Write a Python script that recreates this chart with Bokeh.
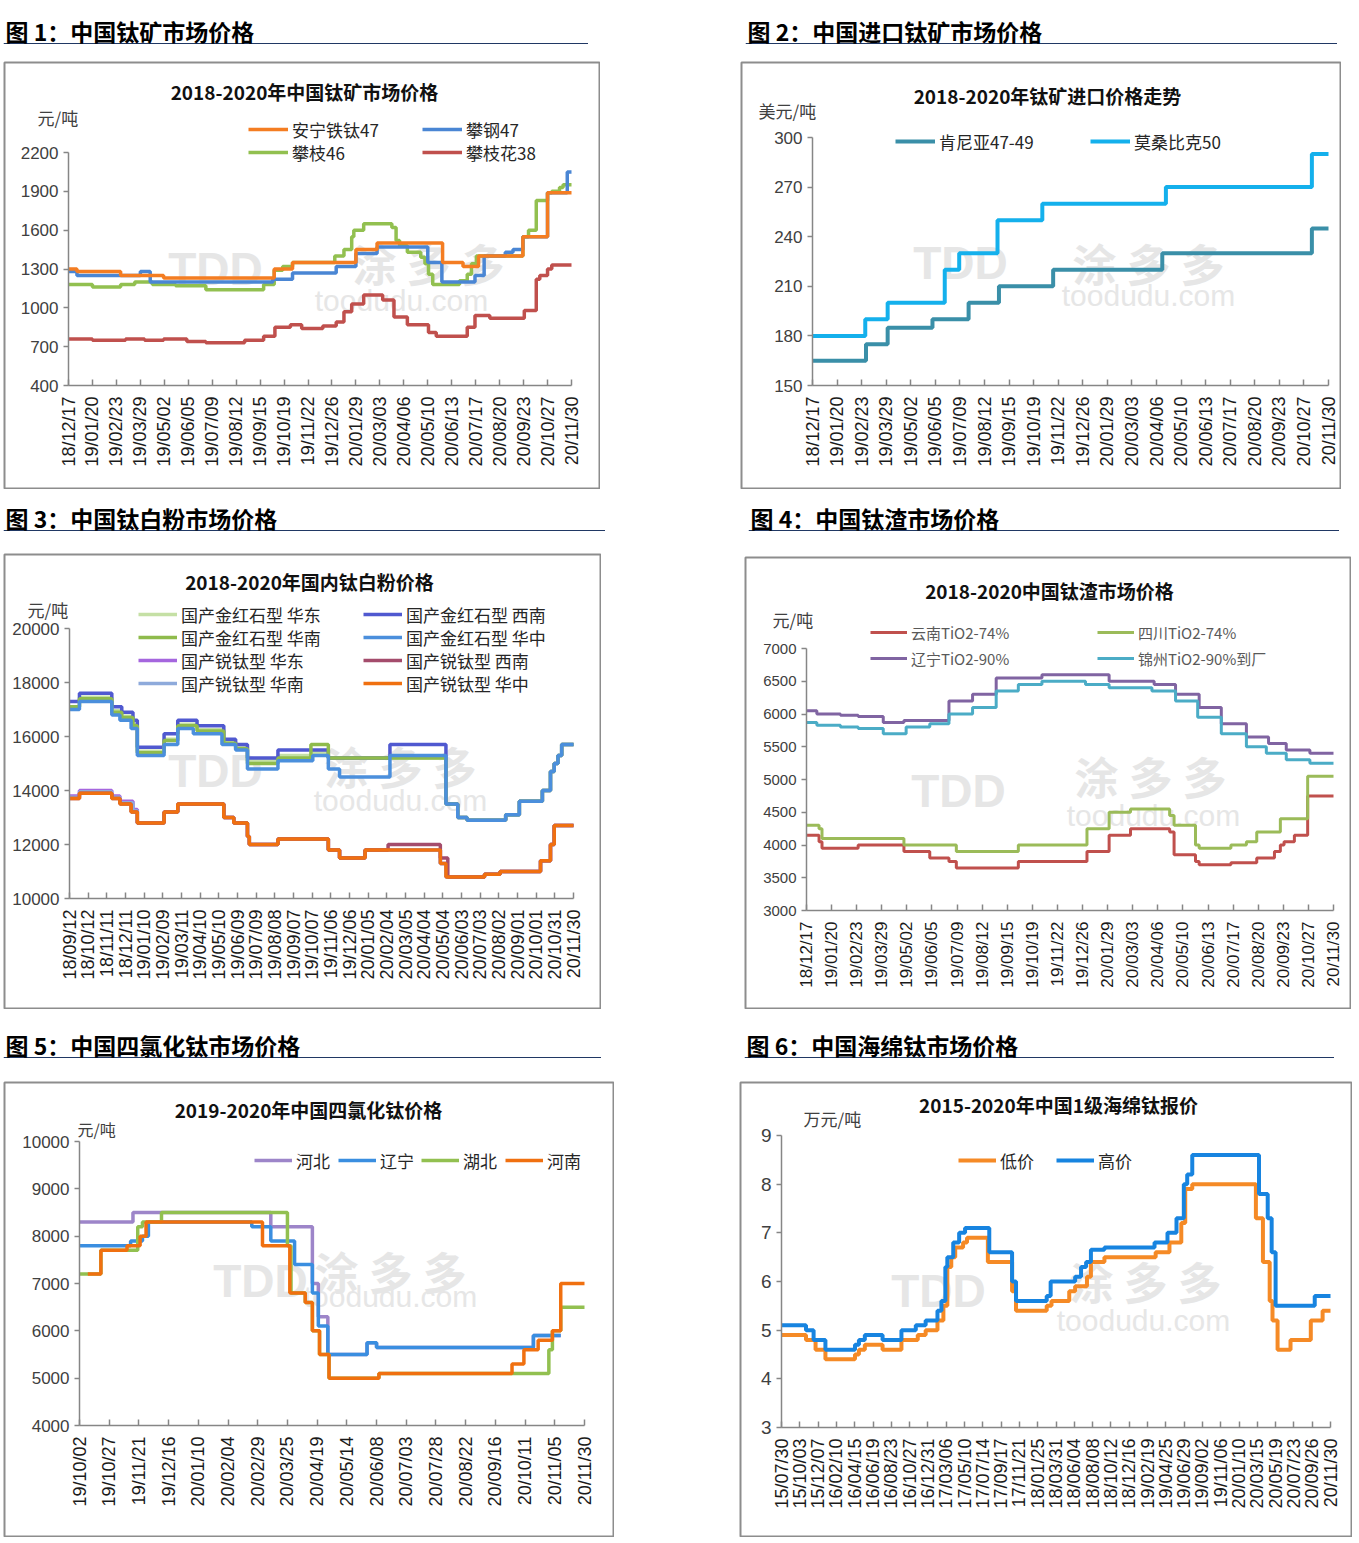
import math
from bokeh.plotting import figure
from bokeh.models import Range1d, FixedTicker, Label, Legend, LegendItem, Spacer, Span
from bokeh.layouts import column, row
from bokeh.embed import file_html
from bokeh.resources import INLINE

CJK = "Noto Sans CJK SC"
NUM = "Liberation Sans"

# ---------------- data ----------------
# chart 1 : days from 18/12/17
c1_labels = ["18/12/17","19/01/20","19/02/23","19/03/29","19/05/02","19/06/05","19/07/09","19/08/12",
             "19/09/15","19/10/19","19/11/22","19/12/26","20/01/29","20/03/03","20/04/06","20/05/10",
             "20/06/13","20/07/17","20/08/20","20/09/23","20/10/27","20/11/30"]
c1_anning_d = [0, 12, 74, 135, 292, 318, 408, 438, 531, 560, 582, 645, 680, 714]
c1_anning_v = [1300, 1280, 1250, 1230, 1300, 1350, 1450, 1500, 1350, 1320, 1400, 1550, 1890, 1890]
c1_pangang_d = [0, 12, 102, 116, 290, 318, 380, 408, 438, 510, 530, 577, 590, 620, 631, 645, 680, 708, 714]
c1_pangang_v = [1280, 1250, 1280, 1200, 1220, 1270, 1320, 1420, 1470, 1350, 1200, 1250, 1400, 1430, 1450, 1550, 1890, 2050, 2050]
c1_pz46_d = [0, 34, 74, 94, 119, 152, 195, 277, 292, 304, 318, 378, 391, 402, 405, 419, 459, 465, 470, 481,
             500, 506, 511, 517, 555, 566, 572, 579, 645, 653, 664, 680, 686, 697, 702, 714]
c1_pz46_v = [1180, 1160, 1180, 1200, 1180, 1170, 1140, 1180, 1290, 1320, 1350, 1400, 1450, 1550, 1600, 1650,
             1620, 1520, 1480, 1430, 1390, 1340, 1260, 1180, 1210, 1260, 1340, 1400, 1550, 1600, 1830, 1890,
             1900, 1930, 1950, 1950]
c1_pzh38_d = [0, 34, 81, 108, 135, 168, 195, 250, 277, 293, 315, 331, 361, 380, 391, 402, 419, 446, 462, 481,
              511, 522, 566, 577, 598, 647, 664, 669, 680, 686, 714]
c1_pzh38_v = [760, 750, 760, 750, 760, 740, 730, 750, 780, 850, 870, 840, 860, 890, 970, 1030, 1100, 1060, 930,
              870, 810, 780, 850, 940, 920, 980, 1220, 1250, 1300, 1330, 1330]

# chart 2
c2_labels = c1_labels
c2_kenya_d = [0, 74, 104, 166, 216, 258, 333, 484, 691, 714]
c2_kenya_v = [165, 175, 185, 190, 200, 210, 220, 230, 245, 245]
c2_moz_d = [0, 73, 104, 183, 203, 256, 318, 489, 691, 714]
c2_moz_v = [180, 190, 200, 220, 230, 250, 260, 270, 290, 290]

# chart 3 : days from 18/09/12
c3_labels = ["18/09/12","18/10/12","18/11/11","18/12/11","19/01/10","19/02/09","19/03/11","19/04/10",
             "19/05/10","19/06/09","19/07/09","19/08/08","19/09/07","19/10/07","19/11/06","19/12/06",
             "20/01/05","20/02/04","20/03/05","20/04/04","20/05/04","20/06/03","20/07/03","20/08/02",
             "20/09/01","20/10/01","20/10/31","20/11/30"]
c3_rut_hd_d = [0, 16, 68, 84, 102, 109, 152, 174, 205, 248, 267, 286, 335, 391, 416, 605, 624, 639, 701, 723, 760, 773, 779, 785, 791, 810]
c3_rut_hd_v = [17100, 17450, 16950, 16750, 16450, 15450, 15900, 16450, 16250, 15800, 15600, 15100, 15300, 15400, 15200,
               13500, 13000, 12900, 13100, 13600, 14000, 14700, 15000, 15300, 15700, 15700]
c3_rut_hn_d = [0, 16, 68, 84, 102, 109, 152, 174, 205, 248, 267, 286, 335, 388, 416, 605, 624, 639, 701, 723, 760, 773, 779, 785, 791, 810]
c3_rut_hn_v = [17100, 17400, 16900, 16700, 16400, 15400, 15850, 16400, 16200, 15750, 15550, 15000, 15200, 15700, 15200,
               13500, 13000, 12900, 13100, 13600, 14000, 14700, 15000, 15300, 15700, 15700]
c3_ana_hd_d = [0, 16, 68, 81, 102, 109, 152, 174, 248, 264, 286, 289, 335, 416, 434, 475, 596, 605, 667, 692, 757, 773, 779, 810]
c3_ana_hd_v = [13800, 14000, 13800, 13600, 13300, 12800, 13200, 13500, 13000, 12800, 12300, 12000, 12200, 11800,
               11500, 11800, 11300, 10800, 10900, 11000, 11400, 12000, 12700, 12700]
c3_ana_hn_d = [0, 16, 68, 81, 102, 109, 152, 174, 248, 264, 286, 289, 335, 416, 434, 475, 596, 605, 667, 692, 757, 773, 779, 810]
c3_ana_hn_v = [13750, 13950, 13750, 13550, 13250, 12800, 13200, 13500, 13000, 12800, 12300, 12000, 12200, 11800,
               11500, 11800, 11300, 10800, 10900, 11000, 11400, 12000, 12700, 12700]
c3_rut_xn_d = [0, 16, 68, 84, 102, 109, 152, 174, 205, 248, 267, 286, 335, 416, 515, 605, 624, 639, 701, 723, 760, 773, 779, 785, 791, 810]
c3_rut_xn_v = [17300, 17600, 17100, 16900, 16600, 15600, 16100, 16600, 16400, 15900, 15700, 15200, 15500, 15200, 15700,
               13500, 13000, 12900, 13100, 13600, 14000, 14700, 15000, 15300, 15700, 15700]
c3_rut_hz_d = [0, 16, 68, 81, 99, 109, 152, 174, 199, 245, 267, 286, 335, 391, 416, 434, 515, 605, 624, 639, 701, 723,
               760, 773, 779, 785, 791, 810]
c3_rut_hz_v = [17000, 17300, 16800, 16600, 16300, 15300, 15700, 16300, 16100, 15700, 15500, 14800, 15100, 15300, 14800,
               14500, 15300, 13500, 13000, 12900, 13100, 13600, 14000, 14700, 15000, 15300, 15700, 15700]
c3_ana_xn_d = [0, 16, 68, 81, 99, 109, 152, 174, 248, 264, 286, 289, 335, 416, 434, 475, 512, 596, 608, 667, 692, 757, 773, 779, 810]
c3_ana_xn_v = [13700, 13900, 13700, 13500, 13200, 12800, 13200, 13500, 13000, 12800, 12300, 12000, 12200, 11800,
               11500, 11800, 12000, 11500, 10800, 10900, 11000, 11400, 12000, 12700, 12700]
c3_ana_hz_d = [0, 16, 68, 81, 99, 109, 152, 174, 248, 264, 286, 289, 335, 416, 434, 475, 596, 605, 667, 692, 757, 773, 779, 810]
c3_ana_hz_v = [13700, 13900, 13700, 13500, 13200, 12800, 13200, 13500, 13000, 12800, 12300, 12000, 12200, 11800,
               11500, 11800, 11300, 10800, 10900, 11000, 11400, 12000, 12700, 12700]

# chart 4 : days from 18/12/17
c4_labels = c1_labels
c4_ln_d = [0, 14, 46, 70, 104, 132, 193, 225, 257, 319, 410, 471, 500, 532, 562, 596, 626, 650, 682, 714]
c4_ln_v = [6050, 6000, 5980, 5960, 5870, 5900, 6200, 6300, 6550, 6600, 6500, 6450, 6300, 6100, 5850, 5650, 5550, 5450, 5400, 5400]
c4_jz_d = [0, 14, 46, 70, 104, 135, 167, 193, 225, 257, 287, 319, 378, 410, 468, 500, 530, 562, 596, 623, 650, 682, 714]
c4_jz_v = [5870, 5830, 5800, 5780, 5700, 5800, 5850, 6000, 6100, 6350, 6450, 6500, 6450, 6400, 6350, 6200, 5950, 5700,
           5500, 5400, 5300, 5250, 5250]
c4_sc_d = [0, 17, 21, 132, 203, 287, 380, 410, 439, 492, 498, 527, 532, 575, 596, 610, 642, 679, 714]
c4_sc_v = [4300, 4250, 4100, 4000, 3900, 4000, 4250, 4500, 4550, 4450, 4300, 4000, 3950, 4000, 4050, 4200, 4400, 5050, 5050]
c4_yn_d = [0, 17, 21, 70, 132, 167, 193, 203, 287, 380, 410, 439, 492, 498, 527, 532, 575, 610, 634, 642, 647, 661, 679, 714]
c4_yn_v = [4150, 4050, 3950, 4000, 3900, 3800, 3750, 3650, 3750, 3900, 4150, 4250, 4200, 3850, 3750, 3700, 3730, 3800,
           3900, 4000, 4050, 4150, 4750, 4750]

# chart 5 : days from 19/10/02
c5_labels = ["19/10/02","19/10/27","19/11/21","19/12/16","20/01/10","20/02/04","20/02/29","20/03/25","20/04/19",
             "20/05/14","20/06/08","20/07/03","20/07/28","20/08/22","20/09/16","20/10/11","20/11/05","20/11/30"]
c5_hebei_d = [0, 45, 161, 196, 201, 209, 242, 250, 382, 405]
c5_hebei_v = [8300, 8500, 8200, 7000, 6300, 5500, 5750, 5650, 5900, 5900]
c5_liaoning_d = [0, 43, 53, 58, 145, 161, 181, 196, 201, 209, 242, 250, 382, 405]
c5_liaoning_v = [7800, 7900, 8000, 8300, 8200, 7900, 7400, 6800, 6100, 5500, 5750, 5650, 5900, 5900]
c5_hubei_d = [0, 18, 49, 53, 69, 175, 178, 190, 196, 202, 210, 252, 395, 398, 405, 425]
c5_hubei_v = [7200, 7700, 8200, 8300, 8500, 7800, 6800, 6600, 6000, 5500, 5000, 5100, 5600, 6000, 6500, 6500]
c5_henan_d = [7, 18, 40, 51, 56, 154, 177, 190, 196, 202, 210, 252, 364, 374, 386, 398, 405, 425]
c5_henan_v = [7200, 7700, 7800, 8000, 8300, 7800, 6800, 6600, 6000, 5500, 5000, 5100, 5300, 5600, 5800, 6000, 7000, 7000]

# chart 6 : days from 15/07/30
c6_labels = ["15/07/30","15/10/03","15/12/07","16/02/10","16/04/15","16/06/19","16/08/23","16/10/27","16/12/31",
             "17/03/06","17/05/10","17/07/14","17/09/17","17/11/21","18/01/25","18/03/31","18/06/04","18/08/08",
             "18/10/12","18/12/16","19/02/19","19/04/25","19/06/29","19/09/02","19/11/06","20/01/10","20/03/15",
             "20/05/19","20/07/23","20/09/26","20/11/30"]
c6_low_d = [0, 87, 121, 156, 261, 275, 296, 359, 426, 484, 512, 554, 575, 589, 603, 617, 645, 659, 733, 819,
            833, 942, 959, 1022, 1043, 1085, 1099, 1147, 1329, 1378, 1420, 1434, 1459, 1685, 1710, 1734, 1744, 1762,
            1808, 1880, 1922, 1950]
c6_low_v = [4.9, 4.8, 4.6, 4.4, 4.5, 4.6, 4.7, 4.6, 4.8, 4.9, 5.0, 5.2, 5.5, 6.3, 6.5, 6.7, 6.8, 6.9, 6.4, 5.8,
            5.4, 5.5, 5.6, 5.8, 5.9, 6.1, 6.4, 6.5, 6.6, 6.8, 7.2, 7.9, 8.0, 7.3, 6.4, 5.6, 5.2, 4.6, 4.8, 5.2, 5.4, 5.4]
c6_high_d = [0, 87, 114, 156, 261, 275, 296, 359, 426, 477, 512, 554, 568, 582, 589, 610, 631, 652, 738, 819,
             833, 942, 956, 1043, 1064, 1082, 1099, 1147, 1325, 1371, 1403, 1429, 1441, 1459, 1696, 1727, 1741, 1755,
             1894, 1950]
c6_high_v = [5.1, 5.0, 4.8, 4.6, 4.7, 4.8, 4.9, 4.8, 5.0, 5.1, 5.2, 5.4, 5.6, 6.3, 6.5, 6.8, 7.0, 7.1, 6.6, 6.0,
             5.6, 5.7, 6.0, 6.1, 6.3, 6.4, 6.65, 6.7, 6.8, 7.0, 7.3, 8.0, 8.2, 8.6, 7.8, 7.3, 6.6, 5.5, 5.7, 5.7]


# ---------------- helpers ----------------
WM = "#e6e6e6"


def make_chart(box, axis_px, y_top_px, x_end, x_step, x_labels, y_min, y_max_tick, y_step,
               series, title, title_c, unit, unit_xy, legends, lw, wm,
               ylab_size="17px", xlab_size="18px", leg_size="17px", leg_color="#262626",
               unit_size="17px", glyph_w=40, leg_gap=23):
    bx0, by0, bx1, by1 = box
    ax0, ax1, ay_bot = axis_px          # pixel of x=0, x=x_end and of y=y_min
    W, H = bx1 - bx0, by1 - by0
    fl, fr, ft, fb = bx0 + 1, bx1 - 1, by0 + 1, by1 - 1   # frame edges
    ppd = (ax1 - ax0) / x_end
    ppu = (ay_bot - y_top_px) / (y_max_tick - y_min)
    xr = Range1d(-(ax0 - fl) / ppd, x_end + (fr - ax1) / ppd)
    yr = Range1d(y_min - (fb - ay_bot) / ppu, y_min + (ay_bot - ft) / ppu)
    p = figure(width=W, height=H, output_backend="svg", toolbar_location=None, tools="",
               x_range=xr, y_range=yr, min_border=1,
               background_fill_color="white", border_fill_color="white",
               outline_line_color="#8d8d8d", outline_line_width=2)
    p.xgrid.visible = False
    p.ygrid.visible = False

    def sx(px):
        return px - fl

    def sy(py):
        return fb - py

    # faint watermark (behind the lines)
    (tx, ty), (wx, wy), (ux, uy) = wm
    p.add_layout(Label(x=sx(tx), y=sy(ty), x_units="screen", y_units="screen", text="TDD",
                       text_align="center", text_baseline="middle", text_font=NUM, text_font_style="bold",
                       text_font_size="46px", text_color=WM, level="underlay"))
    p.add_layout(Label(x=sx(wx), y=sy(wy), x_units="screen", y_units="screen", text="涂 多 多",
                       text_align="center", text_baseline="middle", text_font=CJK, text_font_style="bold",
                       text_font_size="44px", text_color=WM, level="underlay"))
    p.add_layout(Label(x=sx(ux), y=sy(uy), x_units="screen", y_units="screen", text="toodudu.com",
                       text_align="center", text_baseline="middle", text_font=NUM,
                       text_font_size="30px", text_color=WM, level="underlay"))

    rs = {}
    for name, d, v, color in series:
        rs[name] = p.step(d, v, mode="after", line_color=color, line_width=lw)
    ticks_y = list(range(int(y_min), int(y_max_tick) + 1, int(y_step)))
    p.yaxis.ticker = FixedTicker(ticks=ticks_y)
    p.yaxis.bounds = (y_min, y_max_tick)
    p.yaxis.fixed_location = 0
    ticks_x = list(range(0, x_end + 1, x_step))
    p.xaxis.ticker = FixedTicker(ticks=ticks_x)
    p.xaxis.bounds = (0, x_end)
    p.xaxis.fixed_location = y_min
    p.xaxis.major_label_overrides = {t: lab for t, lab in zip(ticks_x, x_labels)}
    p.xaxis.major_label_orientation = math.pi / 2
    for ax in (p.xaxis[0], p.yaxis[0]):
        ax.axis_line_color = "#868686"
        ax.axis_line_width = 1.5
        ax.major_tick_line_color = "#868686"
        ax.major_tick_line_width = 1.5
        ax.minor_tick_line_color = None
        ax.major_label_text_font = NUM
    p.yaxis.major_tick_in = 0
    p.yaxis.major_tick_out = 5
    p.yaxis.major_label_standoff = 5
    p.yaxis.major_label_text_font_size = ylab_size
    p.yaxis.major_label_text_color = "#404040"
    p.xaxis.major_tick_in = 6
    p.xaxis.major_tick_out = 0
    p.xaxis.major_label_standoff = 11
    p.xaxis.major_label_text_font_size = xlab_size
    p.xaxis.major_label_text_color = "#1a1a1a"

    p.add_layout(Label(x=sx(title_c[0]), y=sy(title_c[1]), x_units="screen", y_units="screen",
                       text=title, text_align="center", text_baseline="middle", text_font=CJK,
                       text_font_style="bold", text_font_size="19px", text_color="#111111"))
    p.add_layout(Label(x=sx(unit_xy[0]), y=sy(unit_xy[1]), x_units="screen", y_units="screen",
                       text=unit, text_align="left", text_baseline="middle", text_font=CJK,
                       text_font_size=unit_size, text_color="#404040"))
    for gx, gy, names in legends:
        for i, n in enumerate(names):
            cy = gy + i * leg_gap
            leg = Legend(items=[LegendItem(label=n, renderers=[rs[n]])],
                         location=(sx(gx), sy(cy + 13)), orientation="vertical",
                         padding=0, margin=0, spacing=0, glyph_width=glyph_w, glyph_height=26,
                         label_height=26, label_standoff=4, border_line_color=None,
                         background_fill_alpha=0, label_text_font=CJK, label_text_font_size=leg_size,
                         label_text_color=leg_color)
            p.add_layout(leg)
    return p


EXTRA = 9   # heading canvas continues this many px below its underline


def heading(text, w, h):
    p = figure(width=w, height=h, output_backend="svg", toolbar_location=None, tools="",
               x_range=Range1d(0, w), y_range=Range1d(0, h), min_border=0,
               x_axis_type=None, y_axis_type=None, outline_line_color=None,
               background_fill_color="white", border_fill_color="white")
    p.grid.visible = False
    p.add_layout(Span(location=1 + EXTRA, dimension="width", line_color="#203864", line_width=1))
    p.add_layout(Label(x=2, y=14 + EXTRA, x_units="screen", y_units="screen", text=text,
                       text_align="left", text_baseline="middle", text_font=CJK,
                       text_font_style="bold", text_font_size="23px", text_color="#000000"))
    return p


def cell(col_x0, head_x, head_h, gap, box, chart, title_text):
    hx0, hx1 = head_x
    head = heading(title_text, hx1 - hx0, head_h + EXTRA)
    top = row(Spacer(width=hx0 - col_x0), head) if hx0 > col_x0 else head
    bot = row(Spacer(width=box[0] - col_x0), chart) if box[0] > col_x0 else chart
    return column(top, Spacer(height=gap - EXTRA), bot)


# ---------------- charts ----------------
B1 = (3, 61, 600, 489)
B2 = (740, 61, 1341, 489)
B3 = (3, 553, 601, 1009)
B4 = (744, 556, 1351, 1009)
B5 = (3, 1081, 614, 1537)
B6 = (739, 1081, 1352, 1537)

p1 = make_chart(box=B1, axis_px=(68, 571, 385), y_top_px=152,
                x_end=714, x_step=34, x_labels=c1_labels, y_min=400, y_max_tick=2200, y_step=300,
                series=[("攀枝花38", c1_pzh38_d, c1_pzh38_v, "#c0504d"),
                        ("攀枝46", c1_pz46_d, c1_pz46_v, "#92c050"),
                        ("攀钢47", c1_pangang_d, c1_pangang_v, "#4a86d4"),
                        ("安宁铁钛47", c1_anning_d, c1_anning_v, "#f47d22")],
                title="2018-2020年中国钛矿市场价格", title_c=(304, 91),
                unit="元/吨", unit_xy=(37, 117),
                legends=[(248, 129, ["安宁铁钛47", "攀枝46"]), (422, 129, ["攀钢47", "攀枝花38"])],
                lw=3.5, wm=((215, 268), (428, 262), (401, 300)))

p2 = make_chart(box=B2, axis_px=(812, 1328, 385), y_top_px=137,
                x_end=714, x_step=34, x_labels=c2_labels, y_min=150, y_max_tick=300, y_step=30,
                series=[("肯尼亚47-49", c2_kenya_d, c2_kenya_v, "#3a8fa8"),
                        ("莫桑比克50", c2_moz_d, c2_moz_v, "#14b0ec")],
                title="2018-2020年钛矿进口价格走势", title_c=(1047, 95),
                unit="美元/吨", unit_xy=(758, 110),
                legends=[(895, 141, ["肯尼亚47-49"]), (1090, 141, ["莫桑比克50"])],
                lw=4, wm=((960, 262), (1148, 262), (1148, 295)))

p3 = make_chart(box=B3, axis_px=(69, 573, 898), y_top_px=628,
                x_end=810, x_step=30, x_labels=c3_labels, y_min=10000, y_max_tick=20000, y_step=2000,
                series=[("国产金红石型 华东", c3_rut_hd_d, c3_rut_hd_v, "#c5e0a5"),
                        ("国产金红石型 西南", c3_rut_xn_d, c3_rut_xn_v, "#5059d0"),
                        ("国产金红石型 华南", c3_rut_hn_d, c3_rut_hn_v, "#8fbb4c"),
                        ("国产金红石型 华中", c3_rut_hz_d, c3_rut_hz_v, "#4b8fdc"),
                        ("国产锐钛型 华东", c3_ana_hd_d, c3_ana_hd_v, "#a566de"),
                        ("国产锐钛型 华南", c3_ana_hn_d, c3_ana_hn_v, "#8eaadb"),
                        ("国产锐钛型 西南", c3_ana_xn_d, c3_ana_xn_v, "#a44c6c"),
                        ("国产锐钛型 华中", c3_ana_hz_d, c3_ana_hz_v, "#f07010")],
                title="2018-2020年国内钛白粉价格", title_c=(309, 581),
                unit="元/吨", unit_xy=(27, 609),
                legends=[(138, 614, ["国产金红石型 华东", "国产金红石型 华南", "国产锐钛型 华东", "国产锐钛型 华南"]),
                         (363, 614, ["国产金红石型 西南", "国产金红石型 华中", "国产锐钛型 西南", "国产锐钛型 华中"])],
                lw=3.5, glyph_w=39, wm=((215, 770), (400, 765), (400, 800)))

p4 = make_chart(box=B4, axis_px=(806, 1333, 910), y_top_px=648,
                x_end=714, x_step=34, x_labels=c4_labels, y_min=3000, y_max_tick=7000, y_step=500,
                series=[("云南TiO2-74%", c4_yn_d, c4_yn_v, "#c0504d"),
                        ("四川TiO2-74%", c4_sc_d, c4_sc_v, "#9bbb59"),
                        ("辽宁TiO2-90%", c4_ln_d, c4_ln_v, "#8064a2"),
                        ("锦州TiO2-90%到厂", c4_jz_d, c4_jz_v, "#4bacc6")],
                title="2018-2020中国钛渣市场价格", title_c=(1049, 590),
                unit="元/吨", unit_xy=(772, 619),
                legends=[(870, 632, ["云南TiO2-74%", "辽宁TiO2-90%"]),
                         (1097, 632, ["四川TiO2-74%", "锦州TiO2-90%到厂"])],
                lw=3, ylab_size="15px", xlab_size="17px", leg_size="15px", leg_color="#595959",
                glyph_w=37, leg_gap=26, wm=((958, 790), (1150, 775), (1153, 815)))

p5 = make_chart(box=B5, axis_px=(79, 584, 1425), y_top_px=1141,
                x_end=425, x_step=25, x_labels=c5_labels, y_min=4000, y_max_tick=10000, y_step=1000,
                series=[("河北", c5_hebei_d, c5_hebei_v, "#9d85c9"),
                        ("辽宁", c5_liaoning_d, c5_liaoning_v, "#3a8ee0"),
                        ("湖北", c5_hubei_d, c5_hubei_v, "#92c050"),
                        ("河南", c5_henan_d, c5_henan_v, "#f07010")],
                title="2019-2020年中国四氯化钛价格", title_c=(308, 1109),
                unit="元/吨", unit_xy=(77, 1128),
                legends=[(254, 1160, ["河北"]), (338, 1160, ["辽宁"]), (421, 1160, ["湖北"]), (505, 1160, ["河南"])],
                lw=3.5, glyph_w=38, unit_size="16px", wm=((260, 1280), (390, 1270), (390, 1296)))

p6 = make_chart(box=B6, axis_px=(781, 1330, 1427), y_top_px=1135,
                x_end=1950, x_step=65, x_labels=c6_labels, y_min=3, y_max_tick=9, y_step=1,
                series=[("低价", c6_low_d, c6_low_v, "#f58a26"),
                        ("高价", c6_high_d, c6_high_v, "#1784e0")],
                title="2015-2020年中国1级海绵钛报价", title_c=(1058, 1104),
                unit="万元/吨", unit_xy=(803, 1118),
                legends=[(958, 1160, ["低价"]), (1056, 1160, ["高价"])],
                lw=4, ylab_size="19px", glyph_w=38, wm=((938, 1290), (1145, 1280), (1143, 1320)))

# ---------------- layout ----------------
L1 = cell(0, (3, 588), 44, 17, B1, p1, "图 1：中国钛矿市场价格")
R1 = cell(740, (745, 1337), 44, 17, B2, p2, "图 2：中国进口钛矿市场价格")
L2 = cell(0, (3, 605), 42, 22, B3, p3, "图 3：中国钛白粉市场价格")
R2 = cell(744, (748, 1339), 42, 25, B4, p4, "图 4：中国钛渣市场价格")
L3 = cell(0, (3, 601), 49, 23, B5, p5, "图 5：中国四氯化钛市场价格")
R3 = cell(739, (744, 1334), 49, 23, B6, p6, "图 6：中国海绵钛市场价格")

layout = column(
    row(L1, Spacer(width=740 - 600), R1),
    row(L2, Spacer(width=744 - 605), R2),
    row(L3, Spacer(width=739 - 614), R3),
)

open("out.html", "w").write(file_html(layout, INLINE))
